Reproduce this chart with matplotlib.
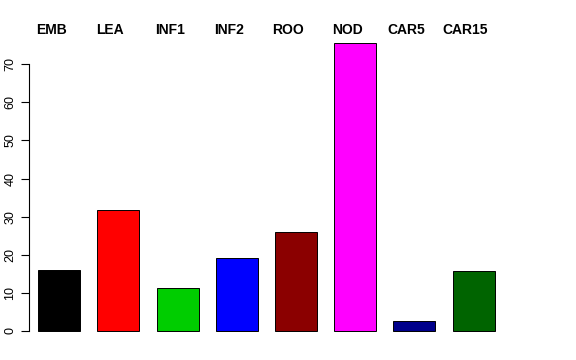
import matplotlib
matplotlib.use("Agg")
import matplotlib.pyplot as plt
import matplotlib.transforms as mtransforms

plt.rcParams['font.family'] = ['Liberation Sans', 'DejaVu Sans']

labels = ["EMB", "LEA", "INF1", "INF2", "ROO", "NOD", "CAR5", "CAR15"]
values = [16.0, 31.8, 11.2, 19.1, 26.1, 75.5, 2.7, 15.7]
colors = ["#000000", "#FF0000", "#00CD00", "#0000FF",
          "#8B0000", "#FF00FF", "#00008B", "#006400"]
yticks = [0, 10, 20, 30, 40, 50, 60, 70]

W, H = 576, 360
fig = plt.figure(figsize=(5.76, 3.6), dpi=100)
# axes box in pixels: left 29, right 560, top 31.5, bottom 342.4
ax = fig.add_axes([29 / W, 1 - 342.4 / H, (560 - 29) / W, (342.4 - 31.5) / H])

x = list(range(len(labels)))
ax.bar(x, values, width=0.71, color=colors, edgecolor="black", linewidth=0.7)

ax.set_xlim((29 - 59.2) / 59.2, (560 - 59.2) / 59.2)
ax.set_ylim(-3.0, 78.6)

for s in ["top", "right", "bottom"]:
    ax.spines[s].set_visible(False)
ax.spines["left"].set_bounds(0, 70)
ax.spines["left"].set_linewidth(0.8)
ax.set_xticks([])
ax.set_yticks(yticks)
ax.set_yticklabels([str(t) for t in yticks], rotation=90, va="center", fontsize=9)
ax.tick_params(axis="y", length=6, width=0.8, pad=3)

# group names sit a little left of the bar centres
trans = mtransforms.blended_transform_factory(ax.transData, fig.transFigure)
trans = trans + mtransforms.ScaledTranslation(-8 / 100, 0, fig.dpi_scale_trans)
for xi, lab in zip(x, labels):
    ax.text(xi, 1 - 30 / H, lab, transform=trans, ha="center", va="center",
            fontsize=10, fontweight="bold", clip_on=False)

fig.savefig("out.png", dpi=100)
